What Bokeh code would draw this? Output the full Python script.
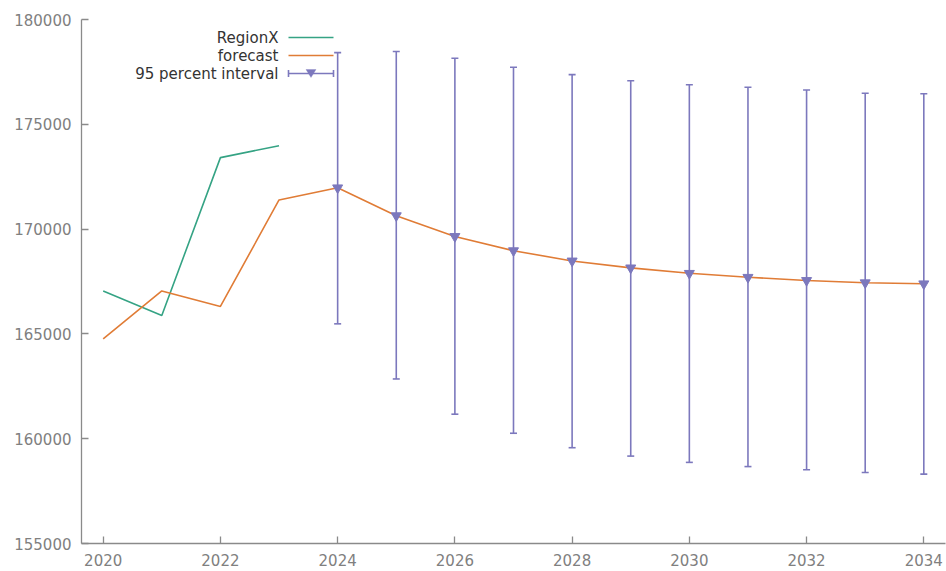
from bokeh.plotting import figure
from bokeh.models import (ColumnDataSource, Whisker, TeeHead, Range1d, FixedTicker,
                          Label, Arrow, PolyAnnotation)
from bokeh.embed import file_html
from bokeh.resources import INLINE

# Observed series
obs_years = [2020, 2021, 2022, 2023]
obs_values = [167050, 165880, 173410, 173980]

# Model line: in-sample fit followed by the forecast
line_years = list(range(2020, 2035))
line_values = [164760, 167050, 166310, 171390,
               171970, 170640, 169650, 168970, 168480, 168150,
               167890, 167700, 167550, 167440, 167390]

# 95 percent interval around the forecast
fc_years = list(range(2024, 2035))
fc_mean = line_values[4:]
fc_upper = [178420, 178470, 178150, 177720, 177370, 177080,
            176890, 176770, 176640, 176480, 176460]
fc_lower = [165480, 162850, 161170, 160260, 159570, 159170,
            158870, 158670, 158520, 158390, 158310]

x_ticks = list(range(2020, 2035, 2))
y_ticks = list(range(155000, 180001, 5000))

GREEN = "#35a384"
ORANGE = "#e07c36"
PURPLE = "#7c78bd"
AXIS = "#8a8a8a"
FONT = "DejaVu Sans"

W, H = 946, 571
BORDER_L, BORDER_R, BORDER_T, BORDER_B = 81, 1, 19, 28

p = figure(width=W, height=H, output_backend="svg", toolbar_location=None,
           x_range=Range1d(2019.63, 2034.37), y_range=Range1d(155000, 180000),
           min_border_left=BORDER_L, min_border_right=BORDER_R,
           min_border_top=BORDER_T, min_border_bottom=BORDER_B)
p.outline_line_color = None
p.xgrid.visible = False
p.ygrid.visible = False
p.background_fill_color = "white"
p.border_fill_color = "white"

for ax, ticks in ((p.xaxis[0], x_ticks), (p.yaxis[0], y_ticks)):
    ax.ticker = FixedTicker(ticks=ticks)
    ax.minor_tick_line_color = None
    ax.major_tick_in = 7
    ax.major_tick_out = 0
    ax.axis_line_color = AXIS
    ax.axis_line_width = 1.3
    ax.major_tick_line_color = AXIS
    ax.major_tick_line_width = 1.3
    ax.major_label_text_color = "#808080"
    ax.major_label_text_font = FONT
    ax.major_label_text_font_size = "15px"
    ax.major_label_standoff = 10
p.yaxis[0].formatter.use_scientific = False

p.line(obs_years, obs_values, line_color=GREEN, line_width=1.6)
p.line(line_years, line_values, line_color=ORANGE, line_width=1.6)

src = ColumnDataSource(dict(x=fc_years, mean=fc_mean, up=fc_upper, lo=fc_lower))
p.add_layout(Whisker(source=src, base="x", upper="up", lower="lo", dimension="height",
                     line_color=PURPLE, line_width=1.6,
                     upper_head=TeeHead(size=7, line_color=PURPLE, line_width=1.6),
                     lower_head=TeeHead(size=7, line_color=PURPLE, line_width=1.6)))
p.scatter("x", "mean", source=src, marker="inverted_triangle", size=10,
          fill_color=PURPLE, line_color=PURPLE)


# Key placement: screen units are measured from the frame's bottom-left corner,
# so page positions (from the top-left) are converted here.
def sx(px):
    return px - BORDER_L


def sy(py):
    return (H - BORDER_B) - py


key_right = 278
key_x0, key_x1 = 288, 333
key_rows = [("RegionX", 37), ("forecast", 55), ("95 percent interval", 73)]
for text, yc in key_rows:
    p.add_layout(Label(x=sx(key_right), y=sy(yc), x_units="screen", y_units="screen",
                       text=text, text_align="right", text_baseline="middle",
                       text_font=FONT, text_font_size="15px", text_color="#333333"))

p.add_layout(Arrow(x_start=sx(key_x0), y_start=sy(37), x_end=sx(key_x1), y_end=sy(37),
                   start_units="screen", end_units="screen", end=None,
                   line_color=GREEN, line_width=1.6))
p.add_layout(Arrow(x_start=sx(key_x0), y_start=sy(55), x_end=sx(key_x1), y_end=sy(55),
                   start_units="screen", end_units="screen", end=None,
                   line_color=ORANGE, line_width=1.6))
p.add_layout(Arrow(x_start=sx(key_x0), y_start=sy(73), x_end=sx(key_x1), y_end=sy(73),
                   start_units="screen", end_units="screen",
                   start=TeeHead(size=7, line_color=PURPLE, line_width=1.6),
                   end=TeeHead(size=7, line_color=PURPLE, line_width=1.6),
                   line_color=PURPLE, line_width=1.6))
mid = (key_x0 + key_x1) / 2
p.add_layout(PolyAnnotation(xs=[sx(mid - 5), sx(mid + 5), sx(mid)],
                            ys=[sy(69), sy(69), sy(77)],
                            xs_units="screen", ys_units="screen",
                            fill_color=PURPLE, fill_alpha=1, line_color=PURPLE))

open("out.html", "w").write(file_html(p, INLINE))
